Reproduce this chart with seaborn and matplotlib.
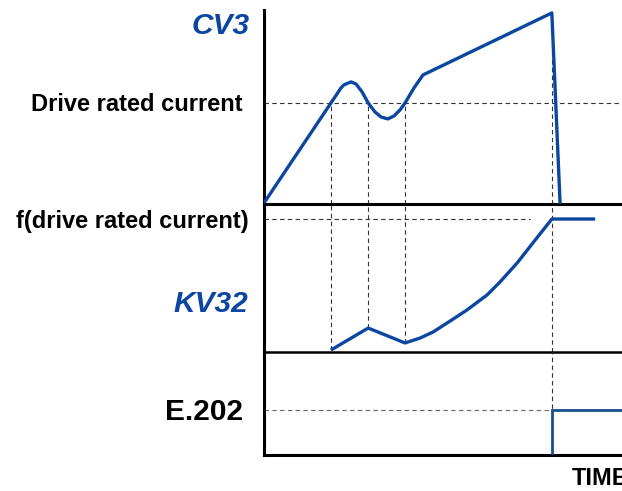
import matplotlib
matplotlib.use("Agg")
import matplotlib.pyplot as plt
import seaborn as sns
import pandas as pd

# ---- signals (time axis 0..100) ----
# CV3: motor current, in % of drive rated current
cv3_t = [0.0, 18.7, 20.1, 21.5, 22.3, 22.9, 24.3, 25.7, 27.4, 29.1, 31.0, 32.7,
         34.6, 36.3, 38.0, 39.4, 41.9, 44.4, 80.4, 82.7]
cv3_v = [1.0, 100.0, 107.4, 114.9, 117.8, 118.8, 120.8, 118.8, 110.9, 100.0, 91.1,
         86.1, 84.2, 87.1, 93.1, 100.0, 114.9, 127.7, 189.1, 1.0]

# KV32: integrated overload, in % of f(drive rated current)
kv32_t = [18.7, 29.1, 39.4, 43.6, 47.2, 52.0, 56.7, 62.3, 65.9, 70.7, 75.1, 80.4, 92.5]
kv32_v = [1.5, 18.0, 6.8, 10.5, 15.0, 23.3, 31.6, 42.9, 52.6, 66.9, 82.0, 100.0, 100.0]

# E.202: fault output (0 = off, 1 = tripped)
e202_t = [80.4, 80.4, 100.0]
e202_v = [0.0, 1.0, 1.0]

# crossing instants marked with guide lines
t_cross = [18.7, 29.1, 39.4]
t_trip = 80.4

rated_level = 100.0        # drive rated current on CV3 scale
f_rated_level = 100.0      # f(drive rated current) on KV32 scale
f_rated_end = 74.3
e202_level = 1.0

top_lim = 192.0
mid_lim = 111.3
bot_lim = 2.29

labels_left = ["CV3", "Drive rated current", "f(drive rated current)", "KV32", "E.202"]
xlabel = "TIME"

BLUE = "#0b47a1"
STEP_BLUE = "#1a4f8f"
DASH = (0, (4, 3))

sns.set_style("white")
plt.rcParams["font.family"] = ["Liberation Sans", "DejaVu Sans"]

W, H = 622, 491
fig = plt.figure(figsize=(W / 100, H / 100), dpi=100)


def rect(x0, y_top, y_bot):
    return [x0 / W, 1 - y_bot / H, 1 - x0 / W, (y_bot - y_top) / H]


ax_top = fig.add_axes(rect(264, 10, 204))
ax_mid = fig.add_axes(rect(264, 204, 352))
ax_bot = fig.add_axes(rect(264, 352, 455))

for ax, lim in [(ax_top, top_lim), (ax_mid, mid_lim), (ax_bot, bot_lim)]:
    ax.set_xlim(0, 100)
    ax.set_ylim(0, lim)
    ax.set_xticks([])
    ax.set_yticks([])
    ax.patch.set_alpha(0)
    for side in ["top", "right"]:
        ax.spines[side].set_visible(False)
    ax.spines["left"].set_linewidth(2.2)
    ax.spines["left"].set_color("black")
    ax.spines["bottom"].set_color("black")
    ax.spines["bottom"].set_linewidth(2.2)
ax_mid.spines["bottom"].set_linewidth(1.8)

guide = dict(color="#333333", lw=0.8, linestyle=DASH, zorder=1)

# top panel guides
ax_top.axhline(rated_level, **guide)
for t in t_cross:
    ax_top.vlines(t, 0, rated_level, **guide)
ax_top.vlines(t_trip, 0, cv3_v[cv3_t.index(t_trip)], **guide)

# middle panel guides
ax_mid.hlines(f_rated_level, 0, f_rated_end, **guide)
for t in t_cross:
    ax_mid.vlines(t, kv32_v[kv32_t.index(t)], mid_lim, **guide)
ax_mid.vlines(t_trip, 0, mid_lim, **guide)

# bottom panel guides
ax_bot.hlines(e202_level, 0, t_trip, color="#666666", lw=0.8, linestyle=DASH, zorder=1)
ax_bot.vlines(t_trip, 0, bot_lim, **guide)

# signals
sns.lineplot(data=pd.DataFrame({"t": cv3_t, "v": cv3_v}), x="t", y="v", ax=ax_top,
             sort=False, estimator=None, color=BLUE, lw=2.4,
             solid_joinstyle="round", solid_capstyle="round", zorder=3)
sns.lineplot(data=pd.DataFrame({"t": kv32_t, "v": kv32_v}), x="t", y="v", ax=ax_mid,
             sort=False, estimator=None, color=BLUE, lw=2.4,
             solid_joinstyle="round", solid_capstyle="butt", zorder=3)
sns.lineplot(data=pd.DataFrame({"t": e202_t, "v": e202_v}), x="t", y="v", ax=ax_bot,
             sort=False, estimator=None, color=STEP_BLUE, lw=2.0,
             solid_joinstyle="miter", zorder=3)
for ax in (ax_top, ax_mid, ax_bot):
    ax.set_xlabel("")
    ax.set_ylabel("")


def ftext(x, y_base, s, size, color="black", style="normal", ha="right"):
    fig.text(x / W, 1 - y_base / H, s, ha=ha, va="baseline", fontsize=size,
             fontweight="bold", fontstyle=style, color=color)


ftext(250, 34, labels_left[0], 21.5, BLUE, "italic")
ftext(243, 111, labels_left[1], 17)
ftext(249, 228, labels_left[2], 17)
ftext(248, 312, labels_left[3], 21.5, BLUE, "italic")
ftext(243, 420, labels_left[4], 21.5)
ftext(572, 485, xlabel, 17, ha="left")

fig.savefig("out.png", dpi=100)
